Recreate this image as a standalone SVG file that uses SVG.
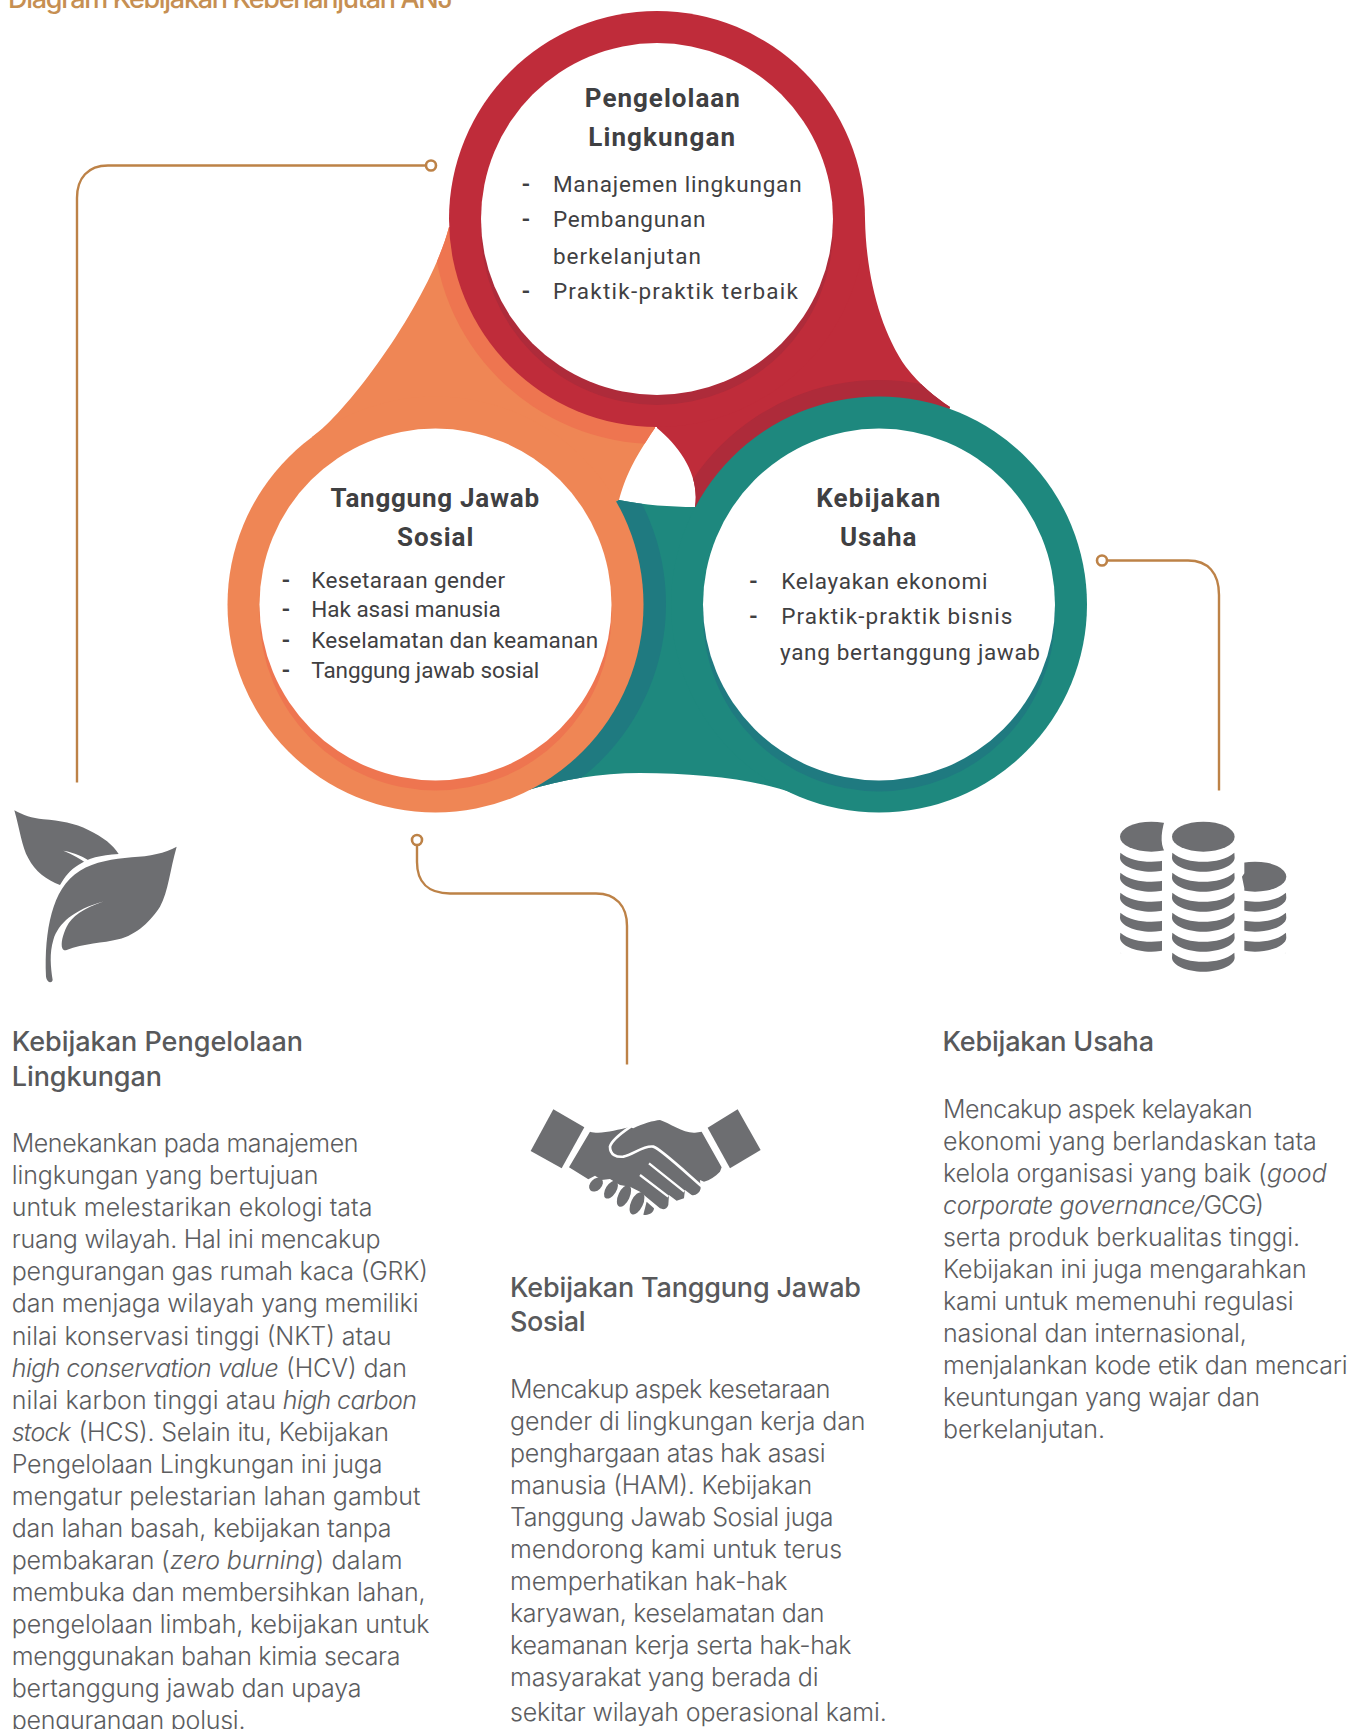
<svg xmlns="http://www.w3.org/2000/svg" xmlns:xlink="http://www.w3.org/1999/xlink" width="1362" height="1729" viewBox="0 0 1362 1729">
<style>
text{font-family:"Inter","Noto Sans","Liberation Sans",sans-serif;fill:#5c5d5f}
.title{font-size:27px;font-weight:500;fill:#c68f52}
.h{font-size:27px;font-weight:500;fill:#58595b}
.b{font-size:25px;font-weight:300}
.i{font-size:25px;font-weight:300;font-style:italic}
.nh{font-family:"Roboto","Liberation Sans",sans-serif;font-size:26px;font-weight:700;fill:#3f4042}
.nt{font-family:"Roboto","Liberation Sans",sans-serif;font-size:22.5px;font-weight:400;fill:#3f4042}
.nd{font-family:"Roboto","Liberation Sans",sans-serif;font-size:22.5px;font-weight:700;fill:#3f4042}
.conn{fill:none;stroke:#bd8247;stroke-width:2.4}
.dot{fill:#fff;stroke:#bd8247;stroke-width:2.6}
.icon{fill:#6d6e71}
</style>
<defs>
<clipPath id="redClip"><path d="M865 219C866 275 880 330 906 367C920 385 935 397 950 407L879 604L695 507C700 475 680 447 657 428L657 219Z"/></clipPath>
<clipPath id="tealClip"><path d="M619 500C645 505 670 507 695 507L879 604L843 808L795 794C760 780 700 773 640 773C600 773 560 780 528 790L435 604Z"/></clipPath>
<clipPath id="orangeClip"><path d="M449 227C430 300 350 410 312 437L435 604L619 500C625 478 633 460 655 428L657 219Z"/></clipPath>
<clipPath id="coinL"><path d="M0 100H232C212 150 210 190 224 215L216 222V520H0Z"/></clipPath>
<clipPath id="coinR"><path d="M463 240V280L456 290L463 325V520H620V240Z"/></clipPath>
<path id="slice" d="M-93 48C-70 68-35 75 0 75C35 75 70 68 93 48L94 63C94 85 50 105 0 105C-50 105-94 85-94 63Z"/>
<g id="stack6"><use xlink:href="#slice" href="#slice"/><use href="#slice" y="60"/><use href="#slice" y="120"/><use href="#slice" y="180"/><use href="#slice" y="240"/><use href="#slice" y="300"/></g>
</defs>
<rect width="1362" height="1729" fill="#fff"/>
<text class="title" x="8" y="7.5" textLength="445">Diagram Kebijakan Keberlanjutan ANJ</text>

<g id="venn-links">
<path d="M449 227C430 300 350 410 312 437L435 604L619 500C625 478 633 460 655 428L657 219Z" fill="#ef8655"/>
<circle cx="657" cy="220" r="224" fill="#ee7550" clip-path="url(#orangeClip)"/>
<path d="M865 219C866 275 880 330 906 367C920 385 935 397 950 407L879 604L695 507C700 475 680 447 657 428L657 219Z" fill="#bf2c3a"/>
<circle cx="879" cy="604" r="224" fill="#ae2b3a" clip-path="url(#redClip)"/>
</g>

<g id="node-lingkungan">
<circle cx="657" cy="219" r="208" fill="#bf2c3a"/>
<circle cx="657" cy="229" r="176" fill="#ae2b3a"/>
<circle cx="657" cy="219" r="176" fill="#fff"/>
<text class="nh" x="584.8" y="106.7" textLength="155">Pengelolaan</text>
<text class="nh" x="588.2" y="145.7" textLength="146.8">Lingkungan</text>
<text class="nd" x="521.5" y="192.3">-</text>
<text class="nt" x="552.9" y="192.3" textLength="248.7">Manajemen lingkungan</text>
<text class="nd" x="521.5" y="227">-</text>
<text class="nt" x="552.9" y="227" textLength="152.5">Pembangunan</text>
<text class="nt" x="552.9" y="263.5" textLength="148">berkelanjutan</text>
<text class="nd" x="521.5" y="299">-</text>
<text class="nt" x="552.9" y="299" textLength="245">Praktik-praktik terbaik</text>
</g>

<g id="venn-link-teal">
<path d="M619 500C645 505 670 507 695 507L879 604L843 808L795 794C760 780 700 773 640 773C600 773 560 780 528 790L435 604Z" fill="#1e887e"/>
<circle cx="445" cy="604" r="221" fill="#1f7a80" clip-path="url(#tealClip)"/>
</g>

<g id="node-usaha">
<circle cx="879" cy="604.5" r="208" fill="#1e887e"/>
<circle cx="879" cy="615.5" r="176" fill="#1f7a80"/>
<circle cx="879" cy="604.5" r="176" fill="#fff"/>
<text class="nh" x="816.2" y="506.7" textLength="124.2">Kebijakan</text>
<text class="nh" x="840" y="545.7" textLength="76.3">Usaha</text>
<text class="nd" x="749" y="588.5">-</text>
<text class="nt" x="781.2" y="588.5" textLength="206.2">Kelayakan ekonomi</text>
<text class="nd" x="749" y="623.5">-</text>
<text class="nt" x="781.2" y="623.5" textLength="231.2">Praktik-praktik bisnis</text>
<text class="nt" x="780" y="659.5" textLength="260">yang bertanggung jawab</text>
</g>

<g id="node-sosial">
<circle cx="435.5" cy="604.5" r="208" fill="#ef8655"/>
<circle cx="435.5" cy="614.5" r="176" fill="#ee7550"/>
<circle cx="435.5" cy="604.5" r="176" fill="#fff"/>
<text class="nh" x="330.5" y="506.7" textLength="208.5">Tanggung Jawab</text>
<text class="nh" x="397" y="545.7" textLength="76.3">Sosial</text>
<text class="nd" x="281.5" y="588.3">-</text>
<text class="nt" x="311.3" y="588.3" textLength="193.7">Kesetaraan gender</text>
<text class="nd" x="281.5" y="617.3">-</text>
<text class="nt" x="311.3" y="617.3" textLength="189.4">Hak asasi manusia</text>
<text class="nd" x="281.5" y="647.7">-</text>
<text class="nt" x="311.3" y="647.7" textLength="287">Keselamatan dan keamanan</text>
<text class="nd" x="281.5" y="678">-</text>
<text class="nt" x="311.3" y="678" textLength="228">Tanggung jawab sosial</text>
</g>

<g id="connectors">
<path class="conn" d="M426 165.5H108C88 165.5 77 178 77 198V782.5"/>
<circle class="dot" cx="431" cy="165.5" r="5"/>
<path class="conn" d="M417 845V862C417 882 428 893.5 450 893.5H596C616 893.5 627 906 627 926V1064.5"/>
<circle class="dot" cx="417" cy="840" r="5"/>
<path class="conn" d="M1107 560.5H1188C1208 560.5 1219 573 1219 595V790.5"/>
<circle class="dot" cx="1102" cy="560.5" r="5"/>
</g>

<g id="icon-leaf" class="icon" transform="translate(0 780) scale(.3333)">
<path d="M43 91C70 105 95 115 130 118C180 122 225 130 265 150C310 172 340 195 356 222C300 225 265 235 235 255C210 270 195 290 180 315C140 300 105 275 85 235C65 200 60 150 43 91Z"/>
<path d="M190 212C225 218 255 232 274 247L262 252C242 236 215 222 190 212Z" fill="#fff"/>
<path d="M530 200C495 220 450 228 395 232C340 237 285 245 240 272C195 300 170 345 155 400C140 455 135 520 138 590C140 607 155 612 158 600C152 560 148 520 160 480C175 430 220 390 312 364C250 385 215 410 200 440C188 465 182 490 187 505C190 512 195 512 200 510C250 490 310 490 355 478C410 465 455 420 480 380C505 335 510 270 530 200Z"/>
</g>

<g id="icon-hands" class="icon" transform="translate(500 1080) scale(.3333)">
<path d="M160 88L253 142L185 265L92 213Z"/>
<path d="M713 88L782 210L690 265L623 143Z"/>
<path d="M270 155C300 165 350 150 388 142L400 145C430 130 460 122 480 120C510 130 550 160 585 158L605 155L665 262L660 275C645 290 630 300 612 305L600 300L602 325C600 340 585 348 575 345L555 330L552 355L530 362L507 345L505 375C500 388 490 390 480 385L420 335L390 320L360 315L330 297L305 300L285 287L265 298L207 262Z"/>
<path d="M392 140C370 155 335 180 330 200C330 225 350 232 370 230C400 225 430 195 460 200C480 205 560 280 604 318" fill="none" stroke="#fff" stroke-width="8"/>
<path d="M447 250L553 335M420 285L505 350" fill="none" stroke="#fff" stroke-width="7"/>
<ellipse cx="288" cy="314" rx="24" ry="17" transform="rotate(-45 288 314)"/>
<ellipse cx="333" cy="329" rx="30" ry="16" transform="rotate(-58 333 329)"/>
<ellipse cx="372" cy="348" rx="35" ry="17" transform="rotate(-65 372 348)"/>
<ellipse cx="411" cy="370" rx="36" ry="18" transform="rotate(-65 411 370)"/>
<path d="M440 365L462 385C462 398 445 408 430 404Z"/>
</g>

<g id="icon-coins" class="icon" transform="translate(1090 780) scale(.3333)">
<g clip-path="url(#coinL)"><ellipse cx="184" cy="170" rx="94" ry="45"/><use href="#stack6" x="184" y="170"/></g>
<ellipse cx="340" cy="170" rx="94" ry="45"/>
<use href="#stack6" x="340" y="170"/>
<g clip-path="url(#coinR)"><ellipse cx="495" cy="290" rx="94" ry="45"/><use href="#stack6" x="495" y="290"/></g>
</g>

<g id="text-lingkungan">
<text class="h" x="11.7" y="1051" textLength="291.3">Kebijakan Pengelolaan</text>
<text class="h" x="11.7" y="1085.7" textLength="150.3">Lingkungan</text>
<text class="b" x="11.7" y="1152" textLength="346.8">Menekankan pada manajemen</text>
<text class="b" x="11.7" y="1184" textLength="306.8">lingkungan yang bertujuan</text>
<text class="b" x="11.7" y="1216" textLength="360.8">untuk melestarikan ekologi tata</text>
<text class="b" x="11.7" y="1248" textLength="368.8">ruang wilayah. Hal ini mencakup</text>
<text class="b" x="11.7" y="1280" textLength="416.3">pengurangan gas rumah kaca (GRK)</text>
<text class="b" x="11.7" y="1312" textLength="406.8">dan menjaga wilayah yang memiliki</text>
<text class="b" x="11.7" y="1344.5" textLength="379.8">nilai konservasi tinggi (NKT) atau</text>
<text class="i" x="11.7" y="1377" textLength="267">high conservation value</text>
<text class="b" x="286" y="1377" textLength="121">(HCV) dan</text>
<text class="b" x="11.7" y="1409" textLength="264.3">nilai karbon tinggi atau</text>
<text class="i" x="282.8" y="1409" textLength="134.2">high carbon</text>
<text class="i" x="11.7" y="1441" textLength="59.3">stock</text>
<text class="b" x="78.5" y="1441" textLength="310.5">(HCS). Selain itu, Kebijakan</text>
<text class="b" x="11.7" y="1473" textLength="370.8">Pengelolaan Lingkungan ini juga</text>
<text class="b" x="11.7" y="1505" textLength="408.8">mengatur pelestarian lahan gambut</text>
<text class="b" x="11.7" y="1537" textLength="379.8">dan lahan basah, kebijakan tanpa</text>
<text class="b" x="11.7" y="1569" textLength="158">pembakaran (</text>
<text class="i" x="170" y="1569" textLength="145">zero burning</text>
<text class="b" x="315.5" y="1569" textLength="87">) dalam</text>
<text class="b" x="11.7" y="1601" textLength="413.8">membuka dan membersihkan lahan,</text>
<text class="b" x="11.7" y="1633" textLength="417.8">pengelolaan limbah, kebijakan untuk</text>
<text class="b" x="11.7" y="1665" textLength="388.8">menggunakan bahan kimia secara</text>
<text class="b" x="11.7" y="1697" textLength="349.8">bertanggung jawab dan upaya</text>
<text class="b" x="11.7" y="1729" textLength="233.8">pengurangan polusi.</text>
</g>

<g id="text-sosial">
<text class="h" x="510" y="1296.7" textLength="351">Kebijakan Tanggung Jawab</text>
<text class="h" x="510" y="1330.7" textLength="75.5">Sosial</text>
<text class="b" x="510" y="1397.7" textLength="320.5">Mencakup aspek kesetaraan</text>
<text class="b" x="510" y="1429.7" textLength="355.5">gender di lingkungan kerja dan</text>
<text class="b" x="510" y="1461.7" textLength="315.5">penghargaan atas hak asasi</text>
<text class="b" x="510" y="1493.7" textLength="302.2">manusia (HAM). Kebijakan</text>
<text class="b" x="510" y="1525.7" textLength="323.5">Tanggung Jawab Sosial juga</text>
<text class="b" x="510" y="1557.7" textLength="332.2">mendorong kami untuk terus</text>
<text class="b" x="510" y="1589.7" textLength="277.5">memperhatikan hak-hak</text>
<text class="b" x="510" y="1621.7" textLength="314.5">karyawan, keselamatan dan</text>
<text class="b" x="510" y="1653.7" textLength="341.5">keamanan kerja serta hak-hak</text>
<text class="b" x="510" y="1685.7" textLength="308.5">masyarakat yang berada di</text>
<text class="b" x="510" y="1720.7" textLength="376.7">sekitar wilayah operasional kami.</text>
</g>

<g id="text-usaha">
<text class="h" x="942.5" y="1051" textLength="211.5">Kebijakan Usaha</text>
<text class="b" x="943" y="1117.7" textLength="309.7">Mencakup aspek kelayakan</text>
<text class="b" x="943" y="1149.7" textLength="373.7">ekonomi yang berlandaskan tata</text>
<text class="b" x="943" y="1181.7" textLength="323.7">kelola organisasi yang baik (</text>
<text class="i" x="1267" y="1181.7" textLength="59.7">good</text>
<text class="i" x="943" y="1213.7" textLength="260.7">corporate governance/</text>
<text class="b" x="1203.5" y="1213.7" textLength="60.5">GCG)</text>
<text class="b" x="943" y="1245.7" textLength="357">serta produk berkualitas tinggi.</text>
<text class="b" x="943" y="1277.7" textLength="363.7">Kebijakan ini juga mengarahkan</text>
<text class="b" x="943" y="1309.7" textLength="350.7">kami untuk memenuhi regulasi</text>
<text class="b" x="943" y="1341.7" textLength="303.7">nasional dan internasional,</text>
<text class="b" x="943" y="1373.7" textLength="404.7">menjalankan kode etik dan mencari</text>
<text class="b" x="943" y="1405.7" textLength="317">keuntungan yang wajar dan</text>
<text class="b" x="943" y="1437.7" textLength="162">berkelanjutan.</text>
</g>
</svg>
